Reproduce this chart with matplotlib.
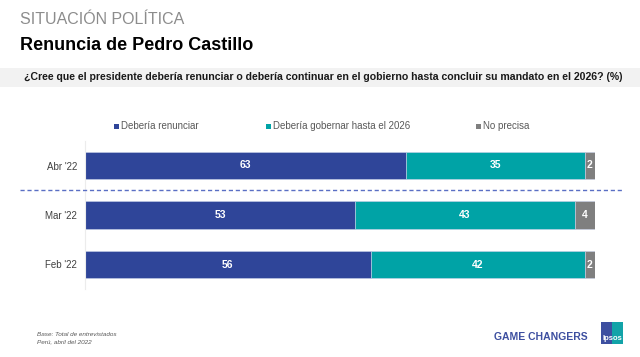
import matplotlib.pyplot as plt
from matplotlib.patches import Rectangle
from matplotlib.lines import Line2D

plt.rcParams['font.family'] = ['Liberation Sans', 'DejaVu Sans']

periods = ["Abr '22", "Mar '22", "Feb '22"]
renunciar = [63, 53, 56]
gobernar = [35, 43, 42]
no_precisa = [2, 4, 2]
series_names = ["Debería renunciar", "Debería gobernar hasta el 2026", "No precisa"]
colors = ["#2f4599", "#00a3a6", "#7f7f7f"]

W, H = 640, 357
fig = plt.figure(figsize=(W / 100, H / 100), dpi=100)


def fx(px):
    return px / W


def fy(py):
    return 1 - py / H


# header
fig.text(fx(20), fy(20), "SITUACIÓN POLÍTICA", fontsize=11.5, color="#8c8c8c", va="center")
fig.text(fx(20), fy(45), "Renuncia de Pedro Castillo", fontsize=13, fontweight="bold", color="black", va="center")
fig.patches.append(Rectangle((0, fy(87)), 1, fy(68) - fy(87), transform=fig.transFigure,
                             facecolor="#f2f2f2", edgecolor="none", zorder=0))
fig.text(fx(323), fy(77.5), "¿Cree que el presidente debería renunciar o debería continuar en el gobierno hasta concluir su mandato en el 2026? (%)",
         fontsize=7.6, fontweight="bold", color="#1a1a1a", ha="center", va="center")

# legend
leg_x = [116, 268, 478]
for x, name, c in zip(leg_x, series_names, colors):
    fig.patches.append(Rectangle((fx(x - 2.5), fy(128.5)), fx(5), fy(123.5) - fy(128.5),
                                 transform=fig.transFigure, facecolor=c, edgecolor="none"))
    fig.text(fx(x + 5), fy(126), name, fontsize=7, color="#595959", va="center")

# bars
ax = fig.add_axes([fx(85), fy(289.25), fx(595) - fx(85), fy(140.75) - fy(289.25)])
ypos = list(range(len(periods)))
h = 0.56
left = [0] * len(periods)
for vals, c in zip([renunciar, gobernar, no_precisa], colors):
    ax.barh(ypos, vals, left=left, height=h, color=c, edgecolor="#c8d0e8", linewidth=0.4)
    for y, l, v in zip(ypos, left, vals):
        ax.text(l + v / 2, y, str(v), ha="center", va="center", color="white",
                fontsize=7.5, fontweight="bold")
    left = [a + b for a, b in zip(left, vals)]

ax.set_xlim(0, 100)
ax.set_ylim(2.5, -0.5)
ax.set_yticks(ypos)
ax.set_yticklabels(periods, fontsize=7, color="#404040")
ax.tick_params(axis="y", length=0, pad=5.8)
ax.set_xticks([])
for s in ["top", "right", "bottom"]:
    ax.spines[s].set_visible(False)
ax.spines["left"].set_color("#ececec")
ax.spines["left"].set_linewidth(0.8)

# separator
fig.lines.append(Line2D([fx(20), fx(622)], [fy(190), fy(190)], transform=fig.transFigure,
                        color="#5a6fc4", linewidth=1, linestyle=(0, (3, 2))))

# footer
fig.text(fx(37), fy(334), "Base: Total de entrevistados", fontsize=4.6, style="italic", color="#595959", va="center")
fig.text(fx(37), fy(342), "Perú, abril del 2022", fontsize=4.6, style="italic", color="#595959", va="center")
fig.text(fx(588), fy(337), "GAME CHANGERS", fontsize=7.5, fontweight="bold", color="#3d4fa0", ha="right", va="center")
fig.patches.append(Rectangle((fx(601), fy(344)), fx(11), fy(322) - fy(344), transform=fig.transFigure,
                             facecolor="#3d4fa0", edgecolor="none"))
fig.patches.append(Rectangle((fx(612), fy(344)), fx(11), fy(322) - fy(344), transform=fig.transFigure,
                             facecolor="#12a3a8", edgecolor="none"))
fig.text(fx(612), fy(338), "Ipsos", fontsize=5.5, fontweight="bold", color="white", ha="center", va="center")

fig.savefig("out.png", dpi=100)
